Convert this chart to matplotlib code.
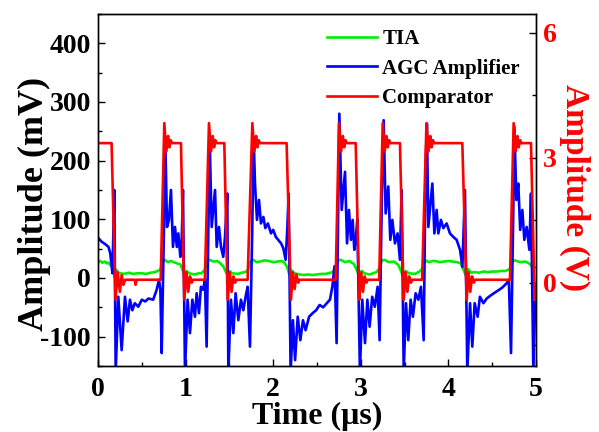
import matplotlib
matplotlib.use("Agg")
import matplotlib.pyplot as plt
from matplotlib.ticker import MultipleLocator

plt.rcParams['font.family'] = ['Liberation Serif', 'DejaVu Serif']
plt.rcParams['font.weight'] = 'bold'
plt.rcParams['axes.unicode_minus'] = False

# TIA output (mV)
tia_t = [0.0, 0.03, 0.05, 0.08, 0.1, 0.12, 0.14, 0.165, 0.19, 0.21, 0.23, 0.26, 0.3, 0.35, 0.4, 0.45,
         0.5, 0.55, 0.6, 0.65, 0.68, 0.71, 0.735, 0.76, 0.8, 0.83, 0.85, 0.9, 0.94, 0.965, 0.99,
         1.01, 1.04, 1.1, 1.15, 1.18, 1.22, 1.245, 1.27, 1.32, 1.36, 1.39, 1.43, 1.46, 1.485,
         1.50, 1.53, 1.6, 1.64, 1.68, 1.71, 1.74, 1.77, 1.81, 1.85, 1.9, 1.95, 2.0, 2.05, 2.1,
         2.13, 2.16, 2.19, 2.21, 2.24, 2.3, 2.35, 2.4, 2.45, 2.5, 2.55, 2.6, 2.68, 2.71, 2.74,
         2.77, 2.82, 2.87, 2.92, 2.95, 2.985, 3.01, 3.04, 3.1, 3.14, 3.18, 3.21, 3.24, 3.27, 3.32,
         3.38, 3.43, 3.47, 3.49, 3.51, 3.55, 3.62, 3.68, 3.71, 3.74, 3.78, 3.82, 3.85, 3.9, 3.95,
         4.0, 4.05, 4.1, 4.14, 4.17, 4.2, 4.225, 4.26, 4.3, 4.35, 4.4, 4.45, 4.5, 4.55, 4.6, 4.65,
         4.70, 4.73, 4.76, 4.82, 4.88, 4.93, 4.96, 5.0]
tia_v = [27, 29, 26, 28, 25, 26, 22, 18, 2, 14, 9, 8, 7, 9, 7, 8,
         8, 7, 9, 10, 12, 14, 25, 31, 27, 29, 28, 25, 23, 14, 4,
         12, 8, 6, 8, 8, 14, 28, 31, 28, 29, 26, 20, 10, 3,
         12, 8, 7, 9, 10, 13, 28, 31, 27, 28, 30, 29, 27, 28, 29,
         26, 18, 3, 13, 8, 6, 5, 6, 5, 6, 7, 7, 10, 18, 30,
         31, 27, 29, 24, 15, 2, 12, 8, 6, 8, 10, 16, 30, 31, 27,
         28, 22, 8, 2, 12, 8, 7, 12, 18, 30, 27, 29, 29, 27, 28,
         29, 28, 27, 25, 15, 4, 15, 9, 10, 9, 11, 10, 11, 11, 12, 12,
         15, 28, 30, 27, 28, 24, 18, 18]

# AGC amplifier output (mV)
agc_t = [0.0, 0.004, 0.04, 0.08, 0.12, 0.14, 0.165, 0.186, 0.202, 0.232, 0.27, 0.308, 0.339, 0.365,
         0.392, 0.42, 0.46, 0.50, 0.54, 0.575, 0.63, 0.67, 0.696, 0.712, 0.727, 0.752, 0.769,
         0.788, 0.81, 0.833, 0.856, 0.879, 0.90, 0.917, 0.94, 0.955, 0.97, 0.993, 1.023, 1.05,
         1.077, 1.107, 1.126, 1.153, 1.175, 1.20, 1.221, 1.24, 1.26, 1.275, 1.298, 1.336, 1.355,
         1.381, 1.404, 1.43, 1.45, 1.476, 1.488, 1.518, 1.545, 1.571, 1.602, 1.632, 1.659, 1.685,
         1.708, 1.735, 1.76, 1.777, 1.792, 1.815, 1.838, 1.86, 1.888, 1.91, 1.94, 1.975, 2.0,
         2.03, 2.058, 2.09, 2.115, 2.142, 2.16, 2.176, 2.199, 2.225, 2.25, 2.28, 2.31, 2.34,
         2.37, 2.41, 2.45, 2.49, 2.53, 2.57, 2.60, 2.648, 2.675, 2.70, 2.724, 2.755, 2.782,
         2.82, 2.843, 2.865, 2.888, 2.907, 2.926, 2.945, 2.96, 2.99, 3.017, 3.048, 3.075, 3.101,
         3.13, 3.16, 3.192, 3.215, 3.24, 3.261, 3.284, 3.314, 3.337, 3.36, 3.39, 3.42, 3.447,
         3.466, 3.49, 3.516, 3.542, 3.569, 3.595, 3.626, 3.657, 3.687, 3.718, 3.74, 3.755,
         3.771, 3.817, 3.84, 3.866, 3.885, 3.915, 3.942, 3.98, 4.018, 4.056, 4.094, 4.133,
         4.16, 4.189, 4.216, 4.247, 4.273, 4.30, 4.334, 4.36, 4.40, 4.437, 4.49, 4.551, 4.61,
         4.665, 4.69, 4.715, 4.74, 4.753, 4.776, 4.798, 4.82, 4.844, 4.867, 4.894, 4.924,
         4.943, 4.970, 4.99, 5.0]
agc_v = [65, 68, 62, 58, 53, 42, 8, 150, -160, -32, -123, -32, -74, -37,
         -55, -43, -49, -37, -40, -35, -37, -20, -3, -20, -128, 76, 229,
         87, 99, 150, 53, 87, 53, 76, 36, 60, 150, -160, -37, -94,
         -37, -66, -26, -60, -15, -20, -3, -117, 80, 235, 87, 150, 53,
         87, 53, 36, 70, 144, -160, -37, -94, -26, -72, -37, -55, -32,
         -15, -117, 76, 240, 161, 99, 133, 93, 104, 85, 93, 76, 82,
         70, 65, 59, 51, 31, 80, 144, -160, -72, -140, -66, -106, -72,
         -89, -66, -60, -55, -46, -50, -45, -37, -15, 20, -111, 280, 116,
         181, 59, 116, 65, 99, 48, 70, 100, -160, -37, -111, -37, -83,
         -32, -49, -15, -106, 133, 269, 110, 156, 65, 99, 59, 76, 31,
         150, -160, -43, -106, -37, -66, -26, -37, -15, -106, 190, 263,
         87, 161, 76, 116, 76, 99, 85, 93, 76, 70, 65, 48,
         19, 150, -160, -43, -117, -43, -66, -32, -43, -35, -29, -23, -17,
         -9, -3, -128, 104, 258, 133, 161, 82, 116, 65, 87, 48,
         144, -160, -40, -60]

# comparator output (V)
comp_t = [0.0, 0.155, 0.20, 0.225, 0.25, 0.27, 0.29, 0.31, 0.42, 0.43, 0.44, 0.716,
          0.757, 0.78, 0.80, 0.815, 0.83, 0.845, 0.947, 0.985, 1.01, 1.03, 1.05, 1.07, 1.085, 1.22,
          1.267, 1.29, 1.31, 1.325, 1.34, 1.355, 1.442, 1.48, 1.505, 1.525, 1.545, 1.565, 1.58, 1.708,
          1.762, 1.785, 1.805, 1.82, 1.835, 1.85, 2.153, 2.203, 2.225, 2.245, 2.265, 2.285, 2.30, 2.713,
          2.751, 2.775, 2.795, 2.81, 2.825, 2.84, 2.942, 2.983, 3.005, 3.025, 3.045, 3.065, 3.08, 3.21,
          3.25, 3.273, 3.293, 3.308, 3.323, 3.338, 3.447, 3.49, 3.512, 3.532, 3.552, 3.572, 3.587, 3.70,
          3.75, 3.773, 3.793, 3.808, 3.823, 3.838, 4.159, 4.209, 4.23, 4.25, 4.27, 4.29, 4.305, 4.703,
          4.745, 4.768, 4.788, 4.803, 4.818, 4.833, 4.943, 4.985, 5.0]
comp_v = [3.35, 3.35, -0.41, 0.25, -0.22, 0.18, -0.05, 0.07, 0.07, -0.05, 0.07, 0.07,
          3.83, 3.15, 3.52, 3.25, 3.42, 3.35, 3.35, -0.41, 0.25, -0.22, 0.15, 0.0, 0.07, 0.07,
          3.83, 3.15, 3.52, 3.25, 3.42, 3.35, 3.35, -0.41, 0.25, -0.22, 0.15, 0.0, 0.07, 0.07,
          3.83, 3.15, 3.52, 3.25, 3.42, 3.35, 3.35, -0.41, 0.25, -0.15, 0.2, 0.0, 0.07, 0.07,
          3.83, 3.15, 3.52, 3.25, 3.42, 3.35, 3.35, -0.41, 0.25, -0.22, 0.15, 0.0, 0.07, 0.07,
          3.83, 3.15, 3.52, 3.25, 3.42, 3.35, 3.35, -0.41, 0.25, -0.22, 0.15, 0.0, 0.07, 0.07,
          3.83, 3.15, 3.52, 3.25, 3.42, 3.35, 3.35, -0.41, 0.25, -0.22, 0.15, 0.0, 0.07, 0.07,
          3.83, 3.15, 3.52, 3.25, 3.42, 3.35, 3.35, -0.41, -0.1]

fig = plt.figure(figsize=(5.99, 4.32), dpi=100)
ax = fig.add_axes([0.1636, 0.1528, 0.7312, 0.8148])
ax2 = ax.twinx()

l1, = ax.plot(tia_t, tia_v, color='#00ee00', lw=1.9, label='TIA')
l2, = ax.plot(agc_t, agc_v, color='#0000ff', lw=1.9, label='AGC Amplifier')
l3, = ax2.plot(comp_t, comp_v, color='#ff0000', lw=1.9, label='Comparator')

ax.set_xlim(0, 5)
ax.set_ylim(-150, 450)
ax2.set_ylim(-2.0, 6.45)

ax.set_yticks([-100, 0, 100, 200, 300, 400])
ax.yaxis.set_minor_locator(MultipleLocator(50))
ax.set_xticks([0, 1, 2, 3, 4, 5])
ax.xaxis.set_minor_locator(MultipleLocator(0.5))
ax2.set_yticks([0, 3, 6])
ax2.yaxis.set_minor_locator(MultipleLocator(1.5))

ax.tick_params(axis='both', which='major', direction='in', length=5, width=1, labelsize=20)
ax.tick_params(axis='both', which='minor', direction='in', length=3, width=1)
ax.tick_params(axis='x', pad=8)
ax.tick_params(axis='y', pad=5)
ax2.tick_params(axis='y', which='major', direction='in', length=5, width=1, labelsize=20,
                labelcolor='red', pad=5)
ax2.tick_params(axis='y', which='minor', direction='in', length=3, width=1)

ax.set_xlabel('Time (μs)', fontsize=23, fontweight='bold', va='top')
ax.xaxis.set_label_coords(0.501, -0.103)
ax.set_ylabel('Amplitude (mV)', fontsize=26, fontweight='bold', va='center')
ax.yaxis.set_label_coords(-0.145, 0.46)
ax2.set_ylabel('Amplitude (V)', fontsize=24, fontweight='bold', color='red',
               rotation=270, va='center')
ax2.yaxis.set_label_coords(1.089, 0.508)

for a in (ax, ax2):
    for s in a.spines.values():
        s.set_linewidth(1.0)

ax2.legend(handles=[l1, l2, l3], loc='upper left', bbox_to_anchor=(0.48, 1.01),
           frameon=False, prop={'family': 'Liberation Serif', 'weight': 'bold', 'size': 15},
           handlelength=2.4, handletextpad=0.25, labelspacing=0.45)

fig.savefig('out.png', dpi=100)
